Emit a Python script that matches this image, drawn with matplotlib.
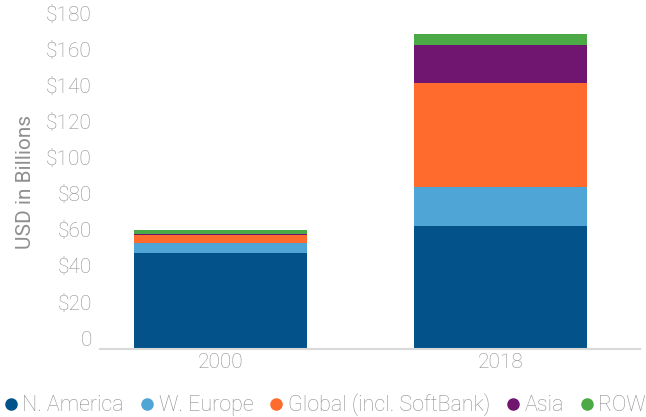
import numpy as np
import matplotlib.pyplot as plt
from matplotlib.transforms import ScaledTranslation
from matplotlib.lines import Line2D

plt.rcParams['font.family'] = ['Roboto', 'DejaVu Sans']
plt.rcParams['font.weight'] = 'light'

years = ['2000', '2018']
regions = ['N. America', 'W. Europe', 'Global (incl. SoftBank)', 'Asia', 'ROW']
n_america = [53.5, 68.3]
w_europe = [5.4, 21.7]
global_sb = [4.4, 57.8]
asia = [0.6, 21.1]
row = [2.2, 6.1]
colors = ['#03538A', '#4FA5D5', '#FE6B2C', '#701670', '#4BAA45']

yticks = [0, 20, 40, 60, 80, 100, 120, 140, 160, 180]
ytick_labels = ['0'] + ['$%d' % v for v in yticks[1:]]

grey = '#8f8f8f'

fig = plt.figure(figsize=(6.46, 4.17), dpi=100)
ax = fig.add_axes([0.155, 0.163, 0.836, 0.799])

x = np.arange(len(years))
bottom = np.zeros(len(years))
for vals, c in zip([n_america, w_europe, global_sb, asia, row], colors):
    ax.bar(x, vals, width=0.618, bottom=bottom, color=c, zorder=2)
    bottom += np.array(vals)

ax.set_xlim(-0.43, 1.5)
ax.set_ylim(0, 185)
ax.set_xticks(x)
ax.set_xticklabels(years, fontsize=15, color=grey)
ax.set_yticks(yticks)
ax.set_yticklabels(ytick_labels, fontsize=15, color=grey)
ax.tick_params(length=0)
ax.tick_params(axis='y', pad=6)
ax.tick_params(axis='x', pad=3)
for s in ['left', 'right', 'top']:
    ax.spines[s].set_visible(False)
ax.spines['bottom'].set_color('#d9d9d9')
ax.spines['bottom'].set_linewidth(1.5)

ax.set_ylabel('USD in Billions', fontsize=15, color=grey, labelpad=8)

# labels sit a bit above their gridline value, as in the original
shift = ScaledTranslation(0, 0.11, fig.dpi_scale_trans)
for lab in ax.get_yticklabels():
    lab.set_transform(lab.get_transform() + shift)

handles = [Line2D([], [], marker='o', linestyle='', markersize=8, color=c) for c in colors]
fig.legend(handles, regions, loc='lower center', bbox_to_anchor=(0.502, -0.045), ncol=5,
           frameon=False, fontsize=15.5, labelcolor=grey, handletextpad=0.12,
           columnspacing=0.68, handlelength=0.8)

fig.savefig('out.png', dpi=100)
